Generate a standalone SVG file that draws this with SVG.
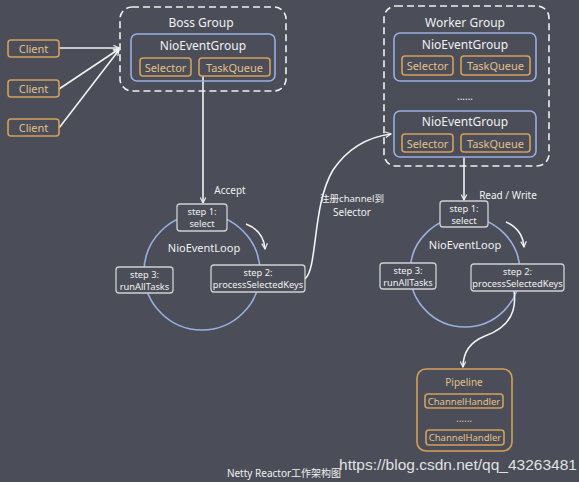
<svg xmlns="http://www.w3.org/2000/svg" width="579" height="482" viewBox="0 0 579 482">
<defs>
<marker id="ah" viewBox="0 0 10 10" refX="9" refY="5" markerWidth="7" markerHeight="7" orient="auto" markerUnits="userSpaceOnUse">
<path d="M1,1 L9,5 L1,9" fill="none" stroke="#f2f2f2" stroke-width="1.6"/>
</marker>
<style>
text{font-family:"Noto Sans","Noto Sans CJK SC",sans-serif;text-anchor:middle;dominant-baseline:central}
.w{fill:#f0f0f0}
.o{fill:#e3c08a}
.orange{fill:none;stroke:#d3a05a;stroke-width:1.6}
.blue{fill:none;stroke:#9aaee0;stroke-width:1.6}
.dash{fill:none;stroke:#f0f0f0;stroke-width:1.6;stroke-dasharray:7 4}
.step{fill:#4b4e58;stroke:#d0d0d0;stroke-width:1.3}
.conn{fill:none;stroke:#f2f2f2;stroke-width:1.6}
.f11{font-size:11px}
.f10{font-size:10px}
.s{font-size:9.3px}
.f12{font-size:12px}
</style>
</defs>
<rect width="579" height="482" fill="#4b4e58"/>

<g id="loop-left">
<circle cx="202" cy="272" r="58" fill="none" stroke="#9aaee0" stroke-width="1.6"/>
<text class="w f11" x="204" y="247">NioEventLoop</text>
</g>
<g id="loop-right">
<circle cx="465" cy="272" r="55" fill="none" stroke="#9aaee0" stroke-width="1.6"/>
<text class="w f11" x="465" y="244">NioEventLoop</text>
</g>

<g id="connectors">
<line class="conn" x1="59" y1="48" x2="119" y2="48" marker-end="url(#ah)"/>
<line class="conn" x1="59" y1="89" x2="119" y2="49" marker-end="url(#ah)"/>
<line class="conn" x1="59" y1="128" x2="119" y2="50" marker-end="url(#ah)"/>
<line class="conn" x1="203" y1="76" x2="203" y2="203" marker-end="url(#ah)"/>
<path class="conn" d="M246,224 C256,228 264,236 265,249" marker-end="url(#ah)"/>
<path class="conn" d="M305,279 C318,268 312,205 333,170 C348,148 368,137 391,134" marker-end="url(#ah)"/>
<line class="conn" x1="464" y1="157" x2="464" y2="200" marker-end="url(#ah)"/>
<path class="conn" d="M506,222 C515,226 523,234 524,247" marker-end="url(#ah)"/>
<path class="conn" d="M514,291 C518,318 502,330 485,336 C470,342 463,352 463,367" marker-end="url(#ah)"/>
</g>

<g id="client1"><rect class="orange" x="8" y="40" width="51" height="17" rx="3"/><text class="o f11" x="33.5" y="48.5">Client</text></g>
<g id="client2"><rect class="orange" x="8" y="80" width="51" height="17" rx="3"/><text class="o f11" x="33.5" y="88.5">Client</text></g>
<g id="client3"><rect class="orange" x="8" y="119" width="51" height="17" rx="3"/><text class="o f11" x="33.5" y="127.5">Client</text></g>

<g id="boss-group">
<rect class="dash" x="120" y="7" width="166" height="84" rx="12"/>
<text class="w f12" x="201" y="22">Boss Group</text>
<rect class="blue" x="131" y="34" width="144" height="47" rx="6"/>
<text class="w f12" x="203" y="45">NioEventGroup</text>
<rect class="orange" x="140" y="58" width="51" height="18" rx="3"/>
<text class="o f11" x="165.5" y="67">Selector</text>
<rect class="orange" x="199" y="58" width="71" height="18" rx="3"/>
<text class="o f11" x="234.5" y="67">TaskQueue</text>
</g>

<g id="worker-group">
<rect class="dash" x="384" y="6" width="165" height="160" rx="12"/>
<text class="w f12" x="465" y="22">Worker Group</text>
<rect class="blue" x="394" y="33" width="142" height="48" rx="6"/>
<text class="w f12" x="465" y="44">NioEventGroup</text>
<rect class="orange" x="402" y="56" width="51" height="19" rx="3"/>
<text class="o f11" x="427.5" y="65.5">Selector</text>
<rect class="orange" x="461" y="56" width="69" height="19" rx="3"/>
<text class="o f11" x="495.5" y="65.5">TaskQueue</text>
<text class="w f10" x="465" y="96">......</text>
<rect class="blue" x="394" y="111" width="142" height="46" rx="6"/>
<text class="w f12" x="465" y="121">NioEventGroup</text>
<rect class="orange" x="402" y="134" width="51" height="18" rx="3"/>
<text class="o f11" x="427.5" y="143">Selector</text>
<rect class="orange" x="461" y="134" width="69" height="18" rx="3"/>
<text class="o f11" x="495.5" y="143">TaskQueue</text>
</g>

<g id="labels">
<text class="w f10" x="230" y="190">Accept</text>
<text class="w" style="font-size:9.5px" x="352" y="198">注册channel到</text>
<text class="w f10" x="352" y="211.5">Selector</text>
<text class="w f10" x="508" y="195">Read / Write</text>
</g>

<g id="l-step1"><rect class="step" x="177" y="204" width="50" height="27" rx="3"/><text class="w s" x="202" y="211.5">step 1:</text><text class="w s" x="202" y="223">select</text></g>
<g id="l-step2"><rect class="step" x="211" y="265" width="94" height="27" rx="3"/><text class="w s" x="258" y="272.5">step 2:</text><text class="w s" x="258" y="284.5">processSelectedKeys</text></g>
<g id="l-step3"><rect class="step" x="116" y="267" width="57" height="26" rx="3"/><text class="w s" x="144.5" y="274">step 3:</text><text class="w s" x="144.5" y="286">runAllTasks</text></g>

<g id="r-step1"><rect class="step" x="440" y="201" width="48" height="26" rx="3"/><text class="w s" x="464" y="208">step 1:</text><text class="w s" x="464" y="220">select</text></g>
<g id="r-step2"><rect class="step" x="471" y="264" width="93" height="27" rx="3"/><text class="w s" x="517.5" y="271.5">step 2:</text><text class="w s" x="517.5" y="283.5">processSelectedKeys</text></g>
<g id="r-step3"><rect class="step" x="380" y="263" width="56" height="26" rx="3"/><text class="w s" x="408" y="270">step 3:</text><text class="w s" x="408" y="282">runAllTasks</text></g>

<g id="pipeline">
<rect class="orange" x="417" y="369" width="95" height="82" rx="9"/>
<text class="o f10" x="464" y="382">Pipeline</text>
<rect class="orange" x="425" y="394" width="78" height="14" rx="3"/>
<text class="o" style="font-size:9.5px" x="464" y="401">ChannelHandler</text>
<text class="o f10" x="464" y="418">......</text>
<rect class="orange" x="426" y="430" width="78" height="15" rx="3"/>
<text class="o" style="font-size:9.5px" x="465" y="437.5">ChannelHandler</text>
</g>

<g id="caption">
<text class="w f10" x="284" y="473">Netty Reactor工作架构图</text>
<text x="458" y="464" style="font-family:'Liberation Sans',sans-serif;font-size:15.5px;fill:#ffffff;fill-opacity:0.85">https://blog.csdn.net/qq_43263481</text>
</g>
</svg>
